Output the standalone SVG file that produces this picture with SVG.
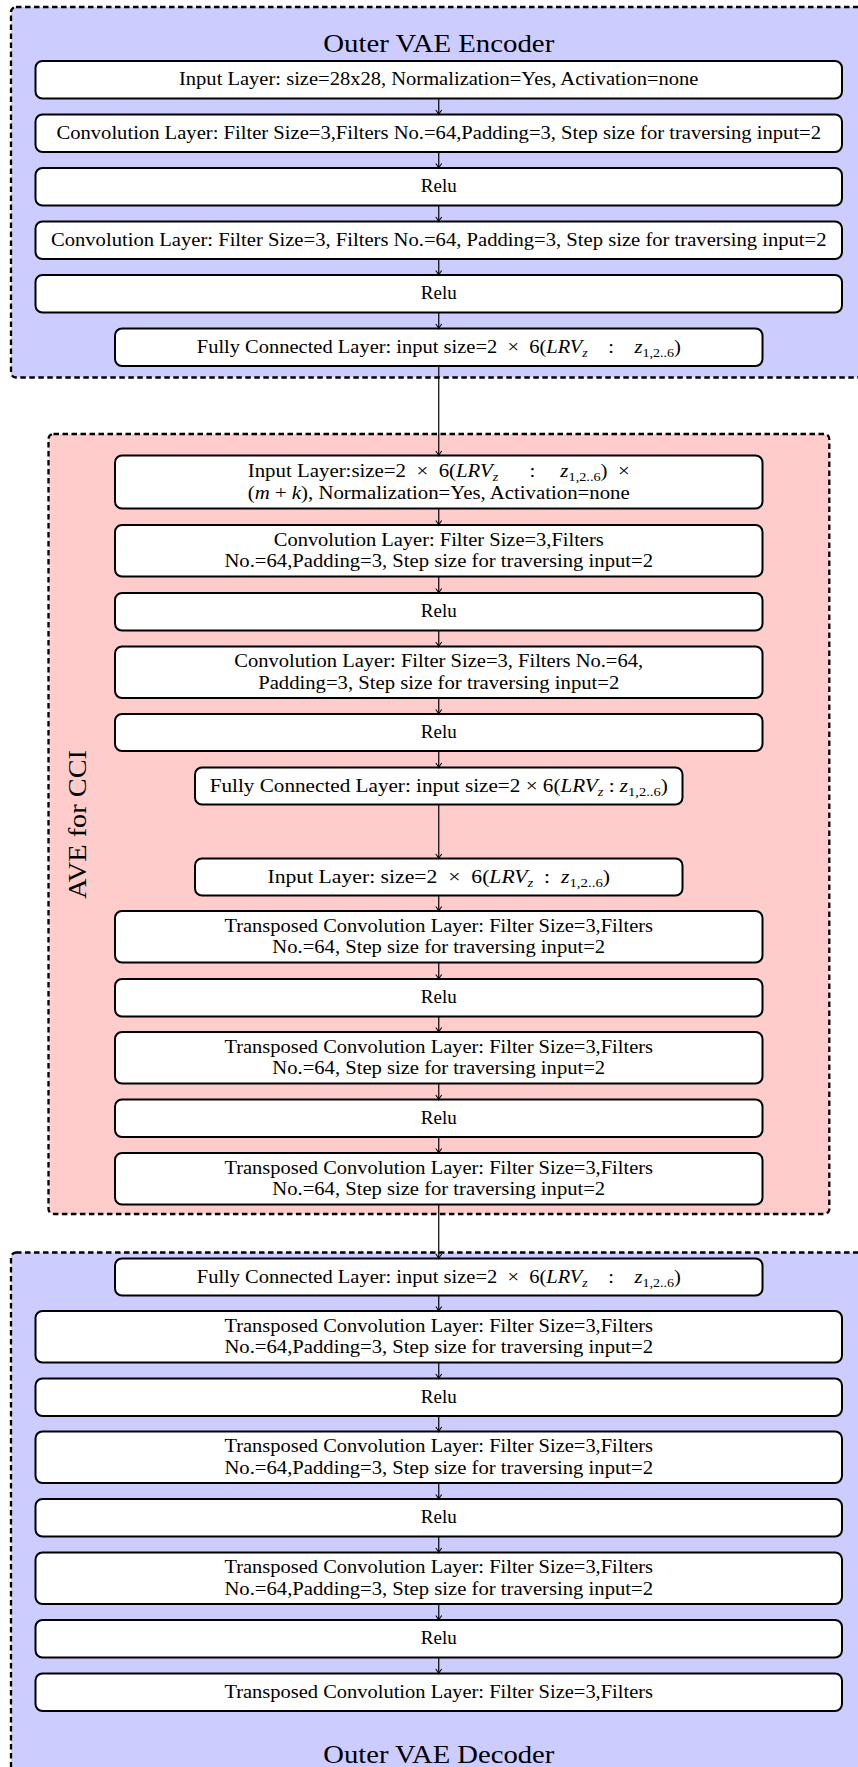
<svg xmlns="http://www.w3.org/2000/svg" width="858" height="1767" viewBox="0 0 858 1767">
  <defs>
    <style>
      .enc { fill: #ccccff; stroke: #000; stroke-width: 2.3; stroke-dasharray: 5.5 3.5; }
      .cci { fill: #ffcccc; stroke: #000; stroke-width: 2.3; stroke-dasharray: 5.5 3.5; }
      .node rect { fill: #fff; stroke: #000; stroke-width: 2; }
      text { font-family: "Liberation Serif", "Times New Roman", serif; font-size: 19px; fill: #000; text-anchor: middle; }
      .title { font-size: 26px; }
      .it { font-style: italic; }
      .sub { font-size: 13px; }
      .conn line { stroke: #000; stroke-width: 1.2; marker-end: url(#arr); }
    </style>
    <marker id="arr" markerUnits="userSpaceOnUse" viewBox="-6 -5 8 10" markerWidth="8" markerHeight="10" refX="0" refY="0" orient="auto">
      <path d="M-4.5,-3 Q-1.5,-0.6 0,0 Q-1.5,0.6 -4.5,3" fill="none" stroke="#000" stroke-width="1.1"/>
    </marker>
  </defs>

  <rect width="858" height="1767" fill="#fff"/>

  <!-- container blocks -->
  <g id="encoder-block">
    <rect class="enc" x="11" y="7" width="880" height="370.5" rx="5"/>
    <text class="title" x="438.75" y="52" textLength="231" lengthAdjust="spacingAndGlyphs">Outer VAE Encoder</text>
  </g>
  <g id="cci-block">
    <rect class="cci" x="48.5" y="434" width="780.8" height="780" rx="5"/>
    <text class="title" transform="translate(86,824.5) rotate(-90)" textLength="149" lengthAdjust="spacingAndGlyphs">AVE for CCI</text>
  </g>
  <g id="decoder-block">
    <rect class="enc" x="11" y="1252.5" width="880" height="540" rx="5"/>
    <text class="title" x="438.75" y="1763" textLength="231" lengthAdjust="spacingAndGlyphs">Outer VAE Decoder</text>
  </g>

  <!-- encoder layers -->
  <g id="enc-input" class="node">
    <rect x="35.5" y="61" width="806.5" height="37.5" rx="7"/>
    <text x="438.75" y="85.25" textLength="519.5" lengthAdjust="spacingAndGlyphs">Input Layer: size=28x28, Normalization=Yes, Activation=none</text>
  </g>
  <g id="enc-conv1" class="node">
    <rect x="35.5" y="114.5" width="806.5" height="37.5" rx="7"/>
    <text x="438.75" y="138.75" textLength="764.6" lengthAdjust="spacingAndGlyphs">Convolution Layer: Filter Size=3,Filters No.=64,Padding=3, Step size for traversing input=2</text>
  </g>
  <g id="enc-relu1" class="node">
    <rect x="35.5" y="168" width="806.5" height="37.5" rx="7"/>
    <text x="438.75" y="192.25">Relu</text>
  </g>
  <g id="enc-conv2" class="node">
    <rect x="35.5" y="221.5" width="806.5" height="37.5" rx="7"/>
    <text x="438.75" y="245.75" textLength="775.6" lengthAdjust="spacingAndGlyphs">Convolution Layer: Filter Size=3, Filters No.=64, Padding=3, Step size for traversing input=2</text>
  </g>
  <g id="enc-relu2" class="node">
    <rect x="35.5" y="275" width="806.5" height="37.5" rx="7"/>
    <text x="438.75" y="299.25">Relu</text>
  </g>
  <g id="enc-fc" class="node">
    <rect x="115" y="328.5" width="647.5" height="37.5" rx="7"/>
    <text x="438.75" y="352.75" textLength="484" lengthAdjust="spacingAndGlyphs">Fully Connected Layer: input size=2&#8194;×&#8194;6(<tspan class="it">LRV</tspan><tspan class="it sub" dy="4">z</tspan><tspan dy="-4">&#8195;:&#8195;</tspan><tspan class="it">z</tspan><tspan class="sub" dy="4">1,2..6</tspan><tspan dy="-4">)</tspan></text>
  </g>

  <!-- CCI layers -->
  <g id="cci-input" class="node">
    <rect x="115" y="455.5" width="647.5" height="53" rx="7"/>
    <text x="438.75" y="476.7" textLength="382" lengthAdjust="spacingAndGlyphs">Input Layer:size=2&#8194;×&#8194;6(<tspan class="it">LRV</tspan><tspan class="it sub" dy="4">z</tspan><tspan dy="-4">&#8195;&#8194;:&#8195;&#8201;</tspan><tspan class="it">z</tspan><tspan class="sub" dy="4">1,2..6</tspan><tspan dy="-4">)&#8194;×</tspan></text>
    <text x="438.75" y="499" textLength="382" lengthAdjust="spacingAndGlyphs">(<tspan class="it">m</tspan> + <tspan class="it">k</tspan>), Normalization=Yes, Activation=none</text>
  </g>
  <g id="cci-conv1" class="node">
    <rect x="115" y="525" width="647.5" height="51.5" rx="7"/>
    <text x="438.75" y="545.75" textLength="330" lengthAdjust="spacingAndGlyphs">Convolution Layer: Filter Size=3,Filters</text>
    <text x="438.75" y="567.25" textLength="428.6" lengthAdjust="spacingAndGlyphs">No.=64,Padding=3, Step size for traversing input=2</text>
  </g>
  <g id="cci-relu1" class="node">
    <rect x="115" y="593" width="647.5" height="37.5" rx="7"/>
    <text x="438.75" y="617.25">Relu</text>
  </g>
  <g id="cci-conv2" class="node">
    <rect x="115" y="646.5" width="647.5" height="51.5" rx="7"/>
    <text x="438.75" y="667.25" textLength="408.8" lengthAdjust="spacingAndGlyphs">Convolution Layer: Filter Size=3, Filters No.=64,</text>
    <text x="438.75" y="688.75" textLength="361.2" lengthAdjust="spacingAndGlyphs">Padding=3, Step size for traversing input=2</text>
  </g>
  <g id="cci-relu2" class="node">
    <rect x="115" y="714" width="647.5" height="37" rx="7"/>
    <text x="438.75" y="738">Relu</text>
  </g>
  <g id="cci-fc" class="node">
    <rect x="195" y="767.5" width="487.5" height="37" rx="7"/>
    <text x="438.75" y="791.5" textLength="458" lengthAdjust="spacingAndGlyphs">Fully Connected Layer: input size=2 × 6(<tspan class="it">LRV</tspan><tspan class="it sub" dy="4">z</tspan><tspan dy="-4"> : </tspan><tspan class="it">z</tspan><tspan class="sub" dy="4">1,2..6</tspan><tspan dy="-4">)</tspan></text>
  </g>
  <g id="cci-latent-input" class="node">
    <rect x="195" y="858.5" width="487.5" height="37" rx="7"/>
    <text x="438.75" y="882.5" textLength="342.6" lengthAdjust="spacingAndGlyphs">Input Layer: size=2&#8194;×&#8194;6(<tspan class="it">LRV</tspan><tspan class="it sub" dy="4">z</tspan><tspan dy="-4">&#8194;:&#8194;</tspan><tspan class="it">z</tspan><tspan class="sub" dy="4">1,2..6</tspan><tspan dy="-4">)</tspan></text>
  </g>
  <g id="cci-tconv1" class="node">
    <rect x="115" y="911" width="647.5" height="51.5" rx="7"/>
    <text x="438.75" y="931.75" textLength="428.6" lengthAdjust="spacingAndGlyphs">Transposed Convolution Layer: Filter Size=3,Filters</text>
    <text x="438.75" y="953.25" textLength="332.8" lengthAdjust="spacingAndGlyphs">No.=64, Step size for traversing input=2</text>
  </g>
  <g id="cci-relu3" class="node">
    <rect x="115" y="979" width="647.5" height="37.5" rx="7"/>
    <text x="438.75" y="1003.25">Relu</text>
  </g>
  <g id="cci-tconv2" class="node">
    <rect x="115" y="1032" width="647.5" height="51.5" rx="7"/>
    <text x="438.75" y="1052.75" textLength="428.6" lengthAdjust="spacingAndGlyphs">Transposed Convolution Layer: Filter Size=3,Filters</text>
    <text x="438.75" y="1074.25" textLength="332.8" lengthAdjust="spacingAndGlyphs">No.=64, Step size for traversing input=2</text>
  </g>
  <g id="cci-relu4" class="node">
    <rect x="115" y="1099.5" width="647.5" height="37.5" rx="7"/>
    <text x="438.75" y="1123.75">Relu</text>
  </g>
  <g id="cci-tconv3" class="node">
    <rect x="115" y="1153" width="647.5" height="51.5" rx="7"/>
    <text x="438.75" y="1173.75" textLength="428.6" lengthAdjust="spacingAndGlyphs">Transposed Convolution Layer: Filter Size=3,Filters</text>
    <text x="438.75" y="1195.25" textLength="332.8" lengthAdjust="spacingAndGlyphs">No.=64, Step size for traversing input=2</text>
  </g>

  <!-- decoder layers -->
  <g id="dec-fc" class="node">
    <rect x="115" y="1258.5" width="647.5" height="37" rx="7"/>
    <text x="438.75" y="1282.5" textLength="484" lengthAdjust="spacingAndGlyphs">Fully Connected Layer: input size=2&#8194;×&#8194;6(<tspan class="it">LRV</tspan><tspan class="it sub" dy="4">z</tspan><tspan dy="-4">&#8195;:&#8195;</tspan><tspan class="it">z</tspan><tspan class="sub" dy="4">1,2..6</tspan><tspan dy="-4">)</tspan></text>
  </g>
  <g id="dec-tconv1" class="node">
    <rect x="35.5" y="1311" width="806.5" height="51.5" rx="7"/>
    <text x="438.75" y="1331.75" textLength="428.6" lengthAdjust="spacingAndGlyphs">Transposed Convolution Layer: Filter Size=3,Filters</text>
    <text x="438.75" y="1353.25" textLength="428.6" lengthAdjust="spacingAndGlyphs">No.=64,Padding=3, Step size for traversing input=2</text>
  </g>
  <g id="dec-relu1" class="node">
    <rect x="35.5" y="1378.5" width="806.5" height="37.5" rx="7"/>
    <text x="438.75" y="1402.75">Relu</text>
  </g>
  <g id="dec-tconv2" class="node">
    <rect x="35.5" y="1431.5" width="806.5" height="51.5" rx="7"/>
    <text x="438.75" y="1452.25" textLength="428.6" lengthAdjust="spacingAndGlyphs">Transposed Convolution Layer: Filter Size=3,Filters</text>
    <text x="438.75" y="1473.75" textLength="428.6" lengthAdjust="spacingAndGlyphs">No.=64,Padding=3, Step size for traversing input=2</text>
  </g>
  <g id="dec-relu2" class="node">
    <rect x="35.5" y="1499" width="806.5" height="37.5" rx="7"/>
    <text x="438.75" y="1523.25">Relu</text>
  </g>
  <g id="dec-tconv3" class="node">
    <rect x="35.5" y="1552.5" width="806.5" height="51.5" rx="7"/>
    <text x="438.75" y="1573.25" textLength="428.6" lengthAdjust="spacingAndGlyphs">Transposed Convolution Layer: Filter Size=3,Filters</text>
    <text x="438.75" y="1594.75" textLength="428.6" lengthAdjust="spacingAndGlyphs">No.=64,Padding=3, Step size for traversing input=2</text>
  </g>
  <g id="dec-relu3" class="node">
    <rect x="35.5" y="1620" width="806.5" height="37.5" rx="7"/>
    <text x="438.75" y="1644.25">Relu</text>
  </g>
  <g id="dec-tconv4" class="node">
    <rect x="35.5" y="1673.5" width="806.5" height="37.5" rx="7"/>
    <text x="438.75" y="1697.75" textLength="428.6" lengthAdjust="spacingAndGlyphs">Transposed Convolution Layer: Filter Size=3,Filters</text>
  </g>

  <!-- connectors -->
  <g id="connectors" class="conn">
    <line x1="438.75" y1="98.5" x2="438.75" y2="114.5"/>
    <line x1="438.75" y1="152" x2="438.75" y2="168"/>
    <line x1="438.75" y1="205.5" x2="438.75" y2="221.5"/>
    <line x1="438.75" y1="259" x2="438.75" y2="275"/>
    <line x1="438.75" y1="312.5" x2="438.75" y2="328.5"/>
    <line x1="438.75" y1="366" x2="438.75" y2="455.5"/>
    <line x1="438.75" y1="508.5" x2="438.75" y2="525"/>
    <line x1="438.75" y1="576.5" x2="438.75" y2="593"/>
    <line x1="438.75" y1="630.5" x2="438.75" y2="646.5"/>
    <line x1="438.75" y1="698" x2="438.75" y2="714"/>
    <line x1="438.75" y1="751" x2="438.75" y2="767.5"/>
    <line x1="438.75" y1="804.5" x2="438.75" y2="858.5"/>
    <line x1="438.75" y1="895.5" x2="438.75" y2="911"/>
    <line x1="438.75" y1="962.5" x2="438.75" y2="979"/>
    <line x1="438.75" y1="1016.5" x2="438.75" y2="1032"/>
    <line x1="438.75" y1="1083.5" x2="438.75" y2="1099.5"/>
    <line x1="438.75" y1="1137" x2="438.75" y2="1153"/>
    <line x1="438.75" y1="1204.5" x2="438.75" y2="1258.5"/>
    <line x1="438.75" y1="1295.5" x2="438.75" y2="1311"/>
    <line x1="438.75" y1="1362.5" x2="438.75" y2="1378.5"/>
    <line x1="438.75" y1="1416" x2="438.75" y2="1431.5"/>
    <line x1="438.75" y1="1483" x2="438.75" y2="1499"/>
    <line x1="438.75" y1="1536.5" x2="438.75" y2="1552.5"/>
    <line x1="438.75" y1="1604" x2="438.75" y2="1620"/>
    <line x1="438.75" y1="1657.5" x2="438.75" y2="1673.5"/>
  </g>
</svg>
